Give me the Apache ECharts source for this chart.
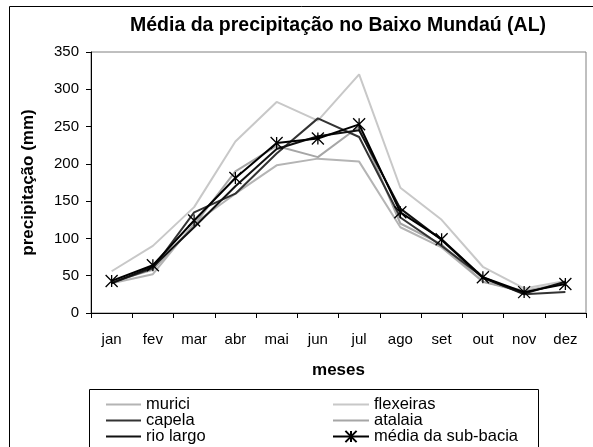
<!DOCTYPE html>
<html>
<head>
<meta charset="utf-8">
<script src="https://cdn.jsdelivr.net/npm/echarts@6/dist/echarts.min.js"></script>
<style>
html, body { margin: 0; padding: 0; background: #fff; }
#grafico { width: 593px; height: 447px; }
</style>
</head>
<body>
<div id="grafico"></div>
<script>
// dados (mm)
var meses = ['jan', 'fev', 'mar', 'abr', 'mai', 'jun', 'jul', 'ago', 'set', 'out', 'nov', 'dez'];
var murici = [40, 52, 120, 160, 198, 207, 203, 115, 88, 42, 30, 40];
var flexeiras = [56, 90, 142, 230, 283, 258, 320, 168, 125, 62, 33, 43];
var capela = [40, 60, 135, 160, 214, 261, 236, 128, 90, 48, 25, 28];
var atalaia = [42, 58, 118, 190, 224, 209, 250, 120, 92, 42, 28, 40];
var rioLargo = [40, 62, 115, 170, 220, 237, 245, 140, 98, 47, 26, 42];
var media = [43, 64, 124, 181, 228, 234, 253, 135, 99, 48, 28, 39];
var ticksY = [0, 50, 100, 150, 200, 250, 300, 350];

var fonte = '"Liberation Sans", Arial, sans-serif';
var estrela = 'path://M0,0L10,10M10,0L0,10M5,0L5,10';

function linha(nome, dados, cor) {
    return {
        name: nome,
        type: 'line',
        data: dados,
        symbol: 'none',
        lineStyle: { color: cor, width: 2 },
        itemStyle: { color: cor }
    };
}

// entrada de legenda só com a linha (sem símbolo)
function soLinha(nome) {
    return { name: nome, itemStyle: { opacity: 0 } };
}

var estiloLegenda = { fontFamily: fonte, fontSize: 16.5, color: '#000', lineHeight: 15 };

var grafico = echarts.init(document.getElementById('grafico'));
var option = {
    animation: false,
    backgroundColor: '#fff',
    title: {
        text: 'Média da precipitação no Baixo Mundaú (AL)',
        left: 130,
        top: 16,
        padding: 0,
        textStyle: { fontFamily: fonte, fontSize: 19.5, fontWeight: 'bold', color: '#000' }
    },
    grid: {
        left: 91, right: 7, top: 52, bottom: 134,
        show: true, borderColor: '#808080', borderWidth: 1,
        containLabel: false
    },
    legend: [{
        data: [soLinha('murici'), soLinha('capela'), soLinha('rio largo')],
        orient: 'vertical',
        left: 105, top: 396, height: 80,
        padding: 0, itemGap: -1,
        itemWidth: 35, itemHeight: 14,
        selectedMode: false,
        textStyle: estiloLegenda
    }, {
        data: [soLinha('flexeiras'), soLinha('atalaia'), 'média da sub-bacia'],
        orient: 'vertical',
        left: 332, top: 396, height: 80,
        padding: 0, itemGap: -1,
        itemWidth: 36, itemHeight: 14,
        selectedMode: false,
        textStyle: estiloLegenda
    }],
    xAxis: {
        type: 'category',
        data: meses,
        boundaryGap: true,
        name: 'meses',
        nameLocation: 'middle',
        nameGap: 49,
        nameTextStyle: { fontFamily: fonte, fontSize: 17, fontWeight: 'bold', color: '#000' },
        axisLine: { lineStyle: { color: '#000', width: 1 } },
        axisTick: { show: true, length: 5, alignWithLabel: false, lineStyle: { color: '#000' } },
        axisLabel: { fontFamily: fonte, fontSize: 15, color: '#000', margin: 19, interval: 0 },
        splitLine: { show: false }
    },
    yAxis: {
        type: 'value',
        min: ticksY[0],
        max: ticksY[ticksY.length - 1],
        interval: 50,
        name: 'precipitação (mm)',
        nameLocation: 'middle',
        nameGap: 54,
        nameTextStyle: { fontFamily: fonte, fontSize: 17, fontWeight: 'bold', color: '#000' },
        axisLine: { show: true, lineStyle: { color: '#000', width: 1 } },
        axisTick: { show: true, length: 5, lineStyle: { color: '#000' } },
        axisLabel: { fontFamily: fonte, fontSize: 15, color: '#000', margin: 12 },
        splitLine: { show: false }
    },
    series: [
        linha('flexeiras', flexeiras, '#c8c8c8'),
        linha('murici', murici, '#b4b4b4'),
        linha('atalaia', atalaia, '#a6a6a6'),
        linha('capela', capela, '#333333'),
        linha('rio largo', rioLargo, '#111111'),
        {
            name: 'média da sub-bacia',
            type: 'line',
            data: media,
            symbol: estrela,
            symbolSize: 12,
            showAllSymbol: true,
            lineStyle: { color: '#000', width: 2 },
            itemStyle: { color: '#000', borderColor: '#000', borderWidth: 1.3 }
        }
    ],
    graphic: [{
        type: 'rect',
        silent: true,
        shape: { x: 9.5, y: 6.5, width: 620, height: 500 },
        style: { fill: 'none', stroke: '#000', lineWidth: 1 },
        z: -10
    }, {
        type: 'rect',
        silent: true,
        shape: { x: 89.5, y: 389.5, width: 449, height: 80 },
        style: { fill: 'none', stroke: '#000', lineWidth: 1 },
        z: -10
    }]
};
grafico.setOption(option);
</script>
</body>
</html>
